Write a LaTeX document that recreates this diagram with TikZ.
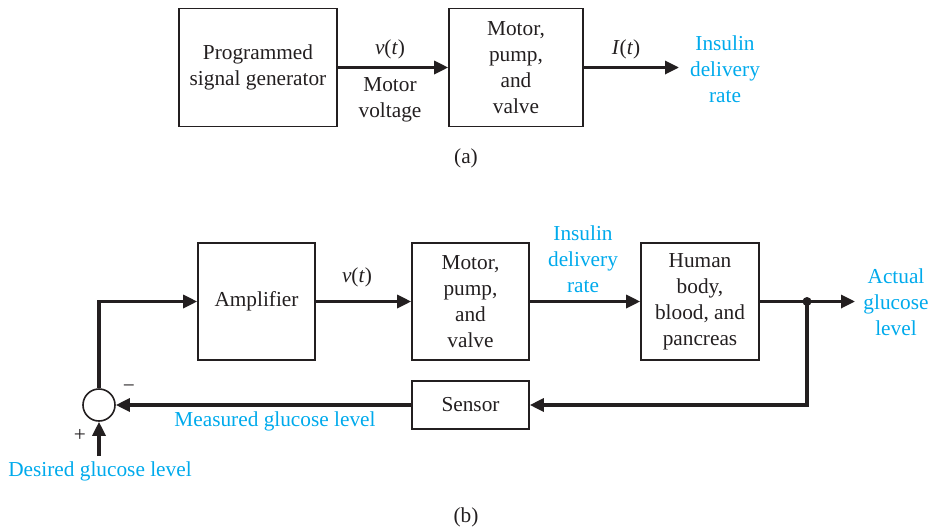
\documentclass[tikz,border=0pt]{standalone}
\usepackage{fontspec}
\setmainfont{Liberation Serif}
\usetikzlibrary{arrows.meta}
\definecolor{cyanlbl}{RGB}{0,170,236}
\definecolor{ink}{RGB}{35,31,32}
\tikzset{
  blk/.style={draw=ink, line width=1.6pt, inner sep=2pt, align=center, text=ink},
  conn/.style={draw=ink, line width=3.2pt, -{Triangle[length=14pt,width=13pt]}},
  lbl/.style={align=center, text=ink, inner sep=0pt},
  blue/.style={align=center, text=cyanlbl, inner sep=0pt},
}
\begin{document}
\begin{tikzpicture}[x=1pt,y=-1pt, font=\fontsize{21.3}{26}\selectfont]
\useasboundingbox (0,0) rectangle (933,530);
% (a)
\node[blk, minimum width=158pt, minimum height=118pt] (pg) at (258,67.5) {Programmed\\signal generator};
\node[blk, minimum width=134pt, minimum height=118pt] (mpa) at (516,67.5) {Motor,\\pump,\\and\\valve};
\coordinate (outa) at (679,67.5);
\draw[conn] (pg.east) -- (mpa.west);
\draw[conn] (mpa.east) -- (outa);
\node[lbl] (vta) at (390,49) {\textit{v}(\textit{t})};
\node[lbl] (mv) at (390,100) {Motor\\voltage};
\node[lbl] (ita) at (626,49) {\textit{I}(\textit{t})};
\node[blue] (ida) at (725,69) {Insulin\\delivery\\rate};
\node[lbl] (capa) at (466,158) {(a)};
% (b)
\node[blk, minimum width=117pt, minimum height=117pt] (amp) at (256.5,301.5) {Amplifier};
\node[blk, minimum width=117pt, minimum height=117pt] (mpb) at (470.5,301.5) {Motor,\\pump,\\and\\valve};
\node[blk, minimum width=118pt, minimum height=117pt] (hb) at (700,301.5) {Human\\body,\\blood, and\\pancreas};
\node[blk, minimum width=117pt, minimum height=48pt] (sen) at (470.5,405) {Sensor};
\node[draw=ink, line width=1.6pt, circle, minimum size=32pt, inner sep=0pt] (sum) at (99,405) {};
\coordinate (dot) at (807,301.5);
\coordinate (outb) at (855,301.5);
\coordinate (des) at (99,456);
\fill[ink] (dot) circle (4.5pt);
\draw[conn] (amp.east) -- (mpb.west);
\draw[conn] (mpb.east) -- (hb.west);
\draw[conn] (hb.east) -- (outb);
\draw[conn] (dot) |- (sen.east);
\draw[conn] (sen.west) -- (sum.east);
\draw[conn] (sum.north) |- (amp.west);
\draw[conn] (des) -- (sum.south);
\node[lbl] (vtb) at (357,277) {\textit{v}(\textit{t})};
\node[blue] (idb) at (583,259) {Insulin\\delivery\\rate};
\node[blue] (agl) at (896,302) {Actual\\glucose\\level};
\node[blue] (mgl) at (275,421) {Measured glucose level};
\node[blue] (dgl) at (100,471) {Desired glucose level};
\node[lbl] (minus) at (129,389) {−};
\node[lbl] (plus) at (80,435) {+};
\node[lbl] (capb) at (466,517) {(b)};
\end{tikzpicture}
\end{document}
